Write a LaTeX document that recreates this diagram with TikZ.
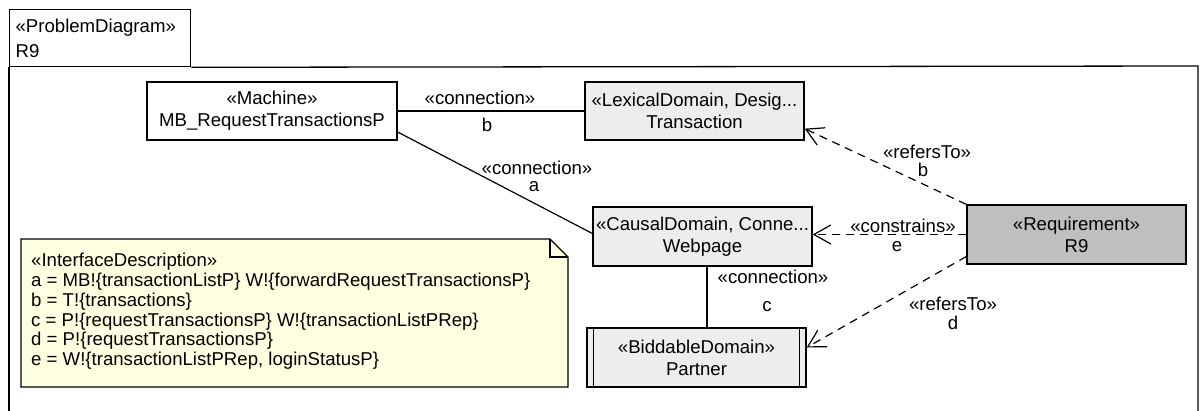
\documentclass[tikz,border=0pt]{standalone}
\usepackage{fontspec}
\setmainfont{Liberation Sans}
\usetikzlibrary{arrows.meta,positioning,calc}
\definecolor{domgray}{RGB}{237,237,237}
\definecolor{reqgray}{RGB}{191,191,191}
\definecolor{noteyellow}{RGB}{255,255,225}
\tikzset{box/.style={draw, line width=1.3pt, minimum width=219pt, minimum height=59pt, align=center, inner sep=0pt},
  dombox/.style={box, fill=domgray},
  conn/.style={line width=1.2pt},
  dep/.style={line width=1.2pt, dash pattern=on 8pt off 6pt, -{Straight Barb[length=17pt,width=19pt,line width=1.2pt]}},
  lbl/.style={inner sep=0pt}}

\begin{document}
\begin{tikzpicture}[x=1pt,y=-1pt,font=\fontsize{18.6}{22}\selectfont]
		\useasboundingbox (0,0) rectangle (1200,410);
		\clip (0,0) rectangle (1200,410);
		% frame
		\node[draw, line width=1.3pt, anchor=north west, minimum width=181pt, minimum height=57pt, text width=171pt, align=left, inner sep=0pt] (diag) at (9,9) {\hspace*{1pt}«ProblemDiagram»\\[3pt]\hspace*{1pt}R9};
		\draw[line width=1.3pt] (diag.south west) -- (9,430);
		\draw[line width=1.3pt] (diag.south east) -- (1198,66) -- (1198,430);
		% note
		\draw[line width=1.3pt, fill=noteyellow] (21,239) -- (550,239) -- (568,257) -- (568,387) -- (21,387) -- cycle;
		\draw[line width=1.1pt] (550,239) -- (550,257) -- (568,257);
		\node[anchor=north west, align=left, inner sep=0pt, font=\fontsize{18.6}{19.8}\selectfont] (note) at (31,253) {«InterfaceDescription»\\a = MB!\{transactionListP\} W!\{forwardRequestTransactionsP\}\\b = T!\{transactions\}\\c = P!\{requestTransactionsP\} W!\{transactionListPRep\}\\d = P!\{requestTransactionsP\}\\e = W!\{transactionListPRep, loginStatusP\}};
		% boxes
		\node[box, minimum width=250pt, minimum height=58pt, fill=white] (mach) at (272,111) {«Machine»\\MB\_RequestTransactionsP};
		\node[dombox, minimum height=58pt] (trans) at (694.5,111) {«LexicalDomain, Desig...\\Transaction};
		\node[dombox] (web) at (702.5,236.5) {«CausalDomain, Conne...\\Webpage};
		\node[dombox] (part) at (696.5,357.5) {«BiddableDomain»\\Partner};
		\draw[line width=1.1pt] ([xshift=7pt]part.north west) -- ([xshift=7pt]part.south west);
		\draw[line width=1.1pt] ([xshift=-7pt]part.north east) -- ([xshift=-7pt]part.south east);
		\node[box, fill=reqgray] (req) at (1076.5,234.5) {«Requirement»\\R9};
		% connections
		\draw[conn] (mach.east) -- (trans.west);
		\draw[conn] ([yshift=-21pt]mach.east) -- ([yshift=3pt]web.west);
		\draw[conn] ([xshift=4.5pt]web.south) -- ([xshift=4.5pt]web.south |- part.north);
		\draw[dep] (req.north west) -- ([yshift=12pt]trans.south east);
		\draw[dep] (req.west) -- (req.west -| web.east);
		\draw[dep] ([yshift=-22pt]req.west) -- ([yshift=10pt]part.east);
		% labels
		\node[lbl] (cb) at (480,98) {«connection»};
		\node[lbl] (cbn) at (487,125) {b};
		\node[lbl] (ca) at (537,168) {«connection»};
		\node[lbl] (can) at (534,187) {a};
		\node[lbl] (cc) at (773,277) {«connection»};
		\node[lbl] (ccn) at (767,307) {c};
		\node[lbl] (rb) at (927,152) {«refersTo»};
		\node[lbl] (rbn) at (923,170) {b};
		\node[lbl] (ce) at (903,226) {«constrains»};
		\node[lbl] (cen) at (897,247) {e};
		\node[lbl] (rd) at (953,304) {«refersTo»};
		\node[lbl] (rdn) at (953,323) {d};
	\end{tikzpicture}
\end{document}
